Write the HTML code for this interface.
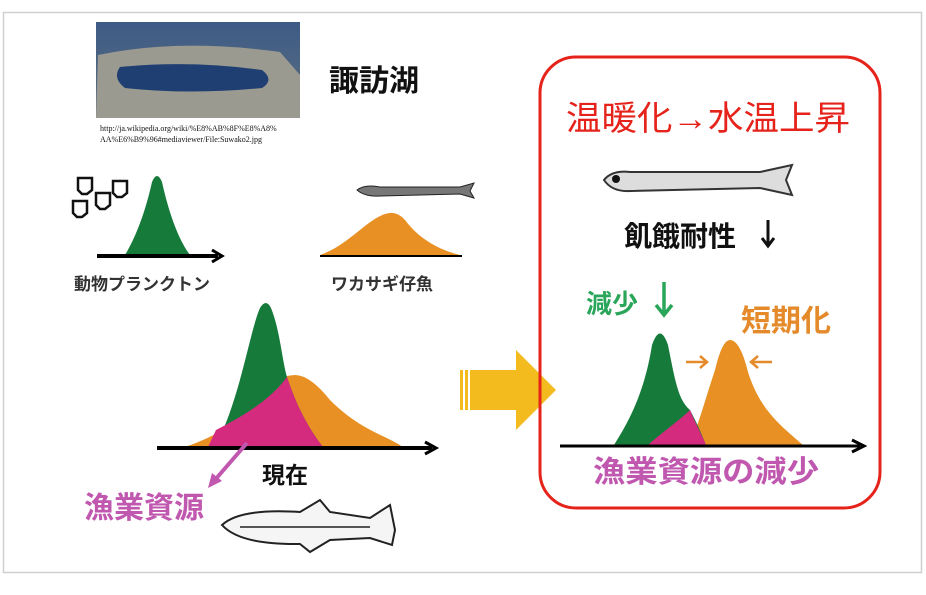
<!DOCTYPE html>
<html><head><meta charset="utf-8"><style>
body{margin:0;width:926px;height:590px;background:#fff;overflow:hidden}
svg text{font-family:"Liberation Sans","Noto Sans CJK JP",sans-serif}
</style></head><body>
<svg width="926" height="590" viewBox="0 0 926 590" xmlns="http://www.w3.org/2000/svg">
<rect x="3.5" y="12.5" width="918" height="560" fill="none" stroke="#cfcfcf" stroke-width="1.5"/>
<defs><linearGradient id="sky" x1="0" y1="0" x2="0" y2="1"><stop offset="0" stop-color="#3d5b85"/><stop offset="1" stop-color="#5f6f80"/></linearGradient></defs>
<rect x="96" y="22" width="204" height="96" fill="url(#sky)"/>
<path d="M98 55 Q180 38 280 52 L300 75 L300 118 L96 118 Z" fill="#9a9a90"/>
<path d="M120 67 Q190 60 262 70 Q275 80 262 88 Q190 95 125 88 Q112 78 120 67Z" fill="#1f3f73"/>
<text x="100" y="131" font-size="8" fill="#111" style="font-family:'Liberation Serif',serif">http://ja.wikipedia.org/wiki/%E8%AB%8F%E8%A8%</text>
<text x="100" y="142" font-size="8" fill="#111" style="font-family:'Liberation Serif',serif">AA%E6%B9%96#mediaviewer/File:Suwako2.jpg</text>
<text x="329" y="91" font-size="30" font-weight="bold" fill="#111">諏訪湖</text>
<g fill="none" stroke="#111" stroke-width="2.5">
<path d="M78 178h14v12l-5 4h-5l-4-4z"/><path d="M113 181h14v12l-5 4h-5l-4-4z"/>
<path d="M96 193h14v12l-5 4h-5l-4-4z"/><path d="M73 201h14v12l-5 4h-5l-4-4z"/>
</g>
<path d="M125 255 C140 230 148 200 152 182 Q157 170 162 182 C166 200 175 235 190 255Z" fill="#167a3a"/>
<line x1="97" y1="256" x2="218" y2="256" stroke="#000" stroke-width="4"/>
<path d="M212 250 L222 256 L212 262" fill="none" stroke="#000" stroke-width="3"/>
<text x="74" y="290" font-size="17" font-weight="bold" fill="#333">動物プランクトン</text>
<path d="M357 190 Q365 184 380 187 L460 187 L474 183 L470 191 L474 198 L460 194 L380 196 Q365 197 357 190Z" fill="#777" stroke="#222"/>
<path d="M320 255 C350 245 370 215 390 213 Q398 212 405 220 C420 240 440 250 460 255Z" fill="#e89023"/>
<line x1="320" y1="256" x2="462" y2="256" stroke="#000" stroke-width="2"/>
<text x="331" y="290" font-size="17" font-weight="bold" fill="#333">ワカサギ仔魚</text>
<path d="M185 447 C220 435 240 420 260 400 Q275 375 295 375 Q310 375 330 400 C360 430 385 435 403 447Z" fill="#e89023"/>
<path d="M215 447 C240 400 250 330 260 308 Q266 298 271 308 C280 330 282 360 287 377 C298 410 310 430 323 447Z" fill="#167a3a"/>
<path d="M208 447 L216 430 C245 415 270 400 287 377 C298 410 310 430 323 447Z" fill="#d42b7f"/>
<line x1="157" y1="448" x2="432" y2="448" stroke="#000" stroke-width="4"/>
<path d="M425 442 L436 448 L425 454" fill="none" stroke="#000" stroke-width="3"/>
<text x="262" y="483" font-size="23" font-weight="bold" fill="#111">現在</text>
<line x1="247" y1="443" x2="214" y2="481" stroke="#c058b0" stroke-width="4"/>
<path d="M208 488 L212 473 L222 481Z" fill="#c058b0"/>
<text x="84" y="518" font-size="30" font-weight="bold" fill="#c058b0">漁業資源</text>
<path d="M222 525 Q240 508 300 512 L320 500 L330 512 L370 518 L390 505 L395 530 L392 545 L370 538 L330 540 L310 552 L300 544 Q240 545 222 525Z" fill="#f5f5f5" stroke="#222" stroke-width="2"/>
<line x1="240" y1="527" x2="370" y2="527" stroke="#555" stroke-width="2"/>
<rect x="460" y="370" width="3" height="40" fill="#f4bb1e"/>
<rect x="465" y="370" width="3" height="40" fill="#f4bb1e"/>
<rect x="470" y="370" width="47" height="40" fill="#f4bb1e"/>
<path d="M516 350 L556 390 L516 430Z" fill="#f4bb1e"/>
<rect x="540" y="57" width="340" height="451" rx="36" fill="none" stroke="#e5231b" stroke-width="3"/>
<text x="566" y="130" font-size="34" fill="#e5231b" textLength="284" lengthAdjust="spacingAndGlyphs">温暖化→水温上昇</text>
<path d="M604 180 Q612 170 630 172 L760 172 L792 165 L786 180 L792 195 L760 188 L630 191 Q612 192 604 180Z" fill="#ddd" stroke="#333" stroke-width="2"/>
<circle cx="616" cy="179" r="4" fill="#111"/>
<text x="624" y="246" font-size="28" font-weight="bold" fill="#111">飢餓耐性</text>
<g stroke="#111" stroke-width="3" fill="none"><line x1="768" y1="220" x2="768" y2="245"/><path d="M762 238 L768 246 L774 238"/></g>
<text x="586" y="313" font-size="26" font-weight="bold" fill="#2aa65a">減少</text>
<g stroke="#2aa65a" stroke-width="3.5" fill="none"><line x1="664" y1="282" x2="664" y2="314"/><path d="M656 305 L664 315 L672 305"/></g>
<text x="741" y="331" font-size="30" font-weight="bold" fill="#e58a2a">短期化</text>
<path d="M690 445 C700 420 705 400 715 370 Q722 340 730 340 Q740 340 748 372 C760 410 780 425 803 445Z" fill="#e89023"/>
<path d="M614 445 C630 420 645 390 652 345 Q660 322 668 345 C675 380 678 400 690 410 C698 425 702 435 706 445Z" fill="#167a3a"/>
<path d="M648 445 C665 430 680 420 690 410 C696 425 702 435 706 445Z" fill="#d42b7f"/>
<line x1="560" y1="446" x2="860" y2="446" stroke="#000" stroke-width="3"/>
<path d="M852 440 L864 446 L852 452" fill="none" stroke="#000" stroke-width="3"/>
<g stroke="#e58a2a" stroke-width="2.5" fill="none">
<line x1="686" y1="362" x2="706" y2="362"/><path d="M700 356 L707 362 L700 368"/>
<line x1="752" y1="362" x2="772" y2="362"/><path d="M758 356 L751 362 L758 368"/>
</g>
<text x="593" y="482" font-size="30" font-weight="bold" fill="#c058b0" textLength="226" lengthAdjust="spacingAndGlyphs">漁業資源の減少</text>
</svg>
</body></html>
